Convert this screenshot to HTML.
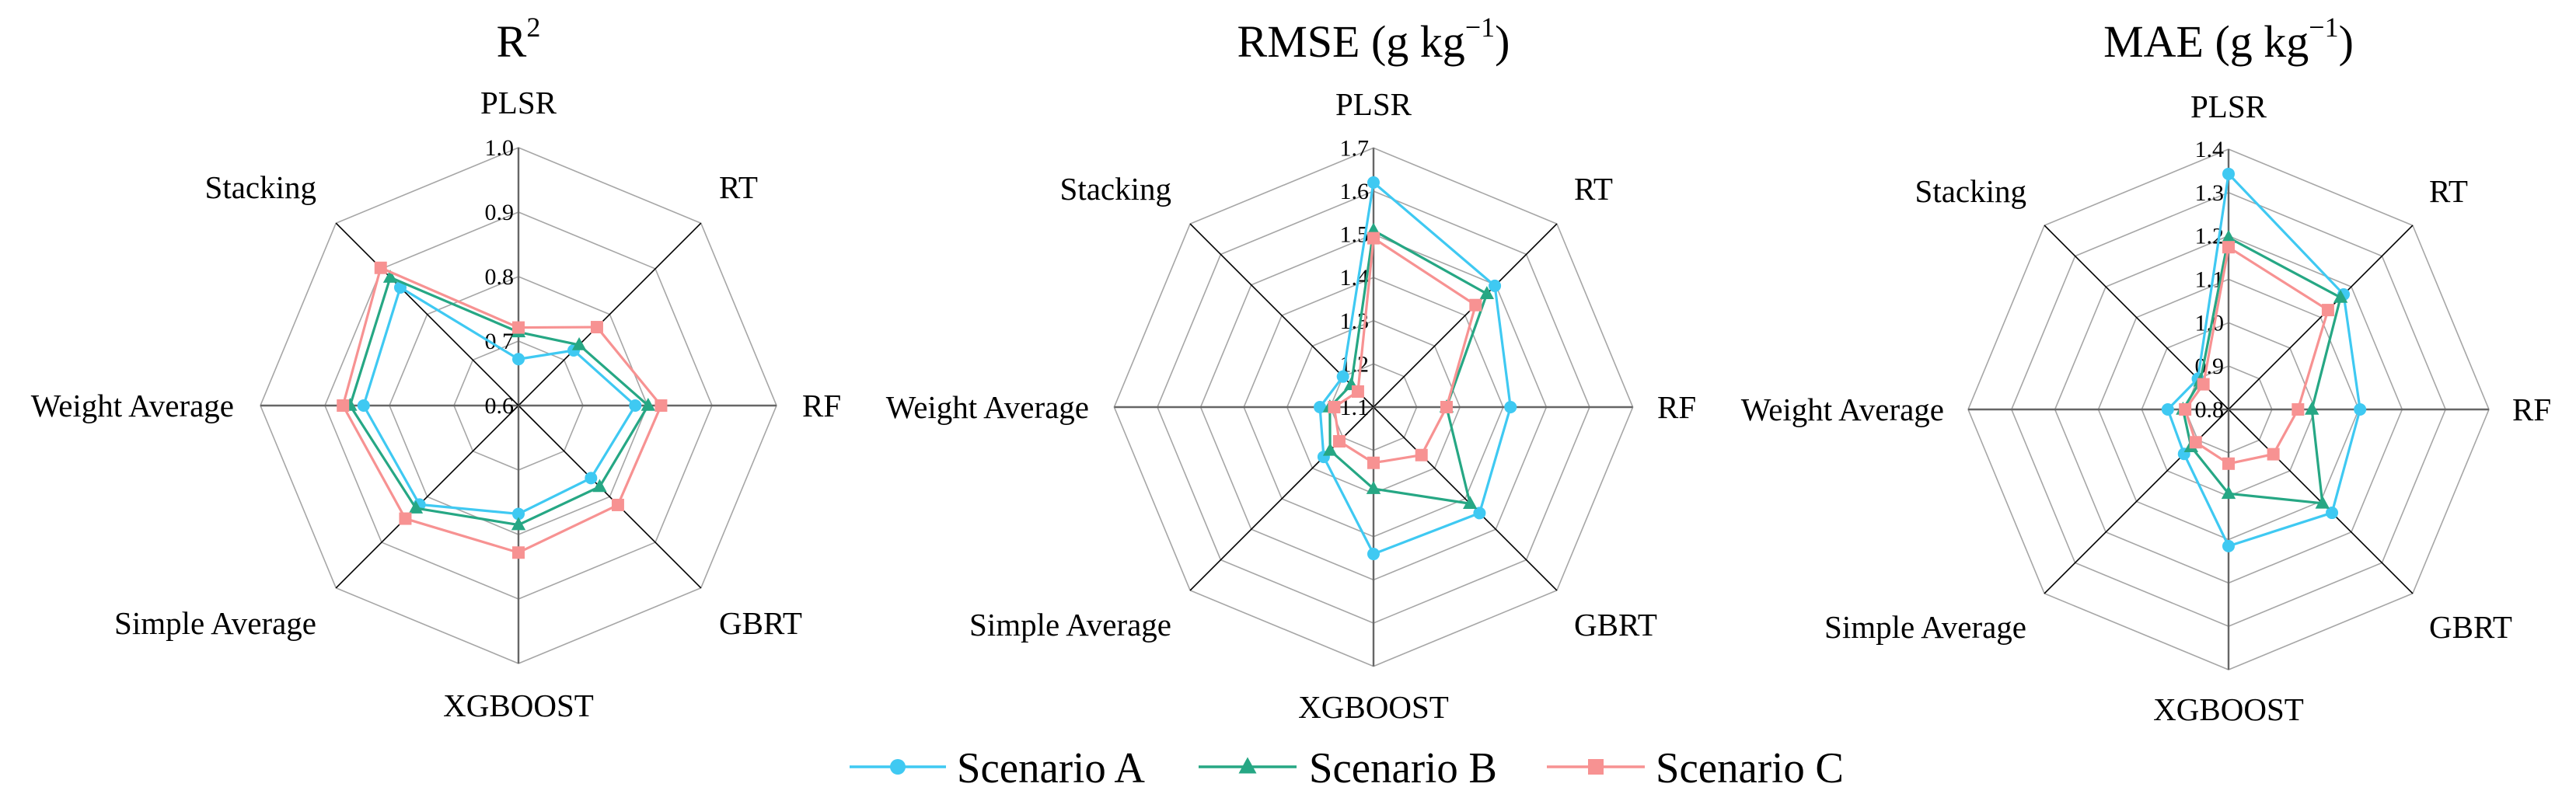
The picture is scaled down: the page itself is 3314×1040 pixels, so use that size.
<!DOCTYPE html>
<html><head><meta charset="utf-8"><style>
html,body{margin:0;padding:0;background:#fff;}
svg{display:block;}
svg text{font-family:"Liberation Serif","Times New Roman",serif;}
</style></head><body>
<svg id="root" width="3314" height="1040" viewBox="0 0 3314 1040" font-family="Liberation Serif, serif"></svg>
<script>
const categories = ["PLSR","RT","RF","GBRT","XGBOOST","Simple Average","Weight Average","Stacking"];
const seriesNames = ["Scenario A","Scenario B","Scenario C"];
const r2A = [0.672,0.721,0.781,0.759,0.768,0.817,0.840,0.859];
const r2B = [0.714,0.733,0.801,0.778,0.785,0.825,0.861,0.881];
const r2C = [0.721,0.772,0.821,0.818,0.828,0.848,0.872,0.902];
const rmseA = [1.620,1.497,1.417,1.447,1.440,1.263,1.224,1.200];
const rmseB = [1.509,1.471,1.269,1.416,1.289,1.242,1.201,1.173];
const rmseC = [1.491,1.434,1.269,1.257,1.229,1.212,1.191,1.151];
const maeA = [1.343,1.175,1.103,1.137,1.115,0.945,0.940,0.900];
const maeB = [1.196,1.165,0.992,1.106,0.994,0.922,0.905,0.892];
const maeC = [1.174,1.124,0.960,0.946,0.925,0.907,0.900,0.882];
const r2Ticks = ["0.6","0.7","0.8","0.9","1.0"];
const rmseTicks = ["1.1","1.2","1.3","1.4","1.5","1.6","1.7"];
const maeTicks = ["0.8","0.9","1.0","1.1","1.2","1.3","1.4"];

const NS = "http://www.w3.org/2000/svg";
const root = document.getElementById("root");
const colors = ["#3fc9f2","#26a784","#f79292"];
const FONT = '"Liberation Serif", serif';
function mk(tag, attrs, parent){
  const e = document.createElementNS(NS, tag);
  for (const k in attrs) e.setAttribute(k, attrs[k]);
  if (tag === "text") e.setAttribute("font-family", FONT);
  (parent||root).appendChild(e);
  return e;
}
function marker(g, kind, x, y, c, s){
  let m;
  if (kind===0) m = mk("circle",{cx:x,cy:y,r:s,fill:c},g);
  else if (kind===1) m = mk("polygon",{points:`${x},${y-s*1.25} ${x-s*1.15},${y+s*0.85} ${x+s*1.15},${y+s*0.85}`,fill:c},g);
  else m = mk("rect",{x:x-s,y:y-s,width:2*s,height:2*s,fill:c},g);
  return m;
}
function radar(cx, cy, R, ticks, series, title, sup, name){
  const g = mk("g",{});
  
  
  const tmin = parseFloat(ticks[0]), tmax = parseFloat(ticks[ticks.length-1]);
  const n = categories.length;
  const ang = i => -Math.PI/2 + i*2*Math.PI/n;
  const rad = v => (v - tmin)/(tmax - tmin)*R;
  const pt = (i, r) => [cx + r*Math.cos(ang(i)), cy + r*Math.sin(ang(i))];
  for (let k=1;k<ticks.length;k++){
    const r = rad(parseFloat(ticks[k]));
    const pts = categories.map((c,i)=>pt(i,r).join(",")).join(" ");
    const ring = mk("polygon",{points:pts,fill:"none",stroke:"#a6a6a6","stroke-width":1.6},g);
    
    
  }
  categories.forEach((c,i)=>{
    const p = pt(i,R);
    const diag = i%2===1;
    const sp = mk("line",{x1:cx,y1:cy,x2:p[0],y2:p[1],stroke:diag?"#000":"#666","stroke-width":diag?1.6:2.4},g);
    
    
  });
  ticks.forEach(t=>{
    const y = cy - rad(parseFloat(t));
    const tl = mk("text",{x:cx-6,y:y+10,"text-anchor":"end","font-size":30,fill:"#000"},g);
    tl.textContent = t;
    
    
  });
  const lp = [[0,-376,"middle"],[258,-267,"start"],[365,14,"start"],[258,294,"start"],[0,400,"middle"],[-260,294,"end"],[-366,14,"end"],[-260,-267,"end"]];
  categories.forEach((c,i)=>{
    const l = lp[i];
    const t = mk("text",{x:cx+l[0],y:cy+l[1],"text-anchor":l[2],"font-size":41,fill:"#000"},g);
    t.textContent = c;
    
    
  });
  const tt = mk("text",{x:cx,y:73,"text-anchor":"middle","font-size":58,fill:"#000"},g);
  
  
  tt.appendChild(document.createTextNode(title));
  const ts = document.createElementNS(NS,"tspan");
  ts.setAttribute("font-size","36"); ts.setAttribute("dy","-26");
  ts.textContent = sup; tt.appendChild(ts);
  if (title !== "R"){
    const ts2 = document.createElementNS(NS,"tspan");
    ts2.setAttribute("dy","26"); ts2.textContent = ")"; tt.appendChild(ts2);
  }
  series.forEach((vals, s)=>{
    const sg = mk("g",{},g);
    
    
    const pts = vals.map((v,i)=>pt(i,rad(v)));
    mk("polygon",{points:pts.map(p=>p.join(",")).join(" "),fill:"none",stroke:colors[s],"stroke-width":3.2,"stroke-linejoin":"round"},sg);
    pts.forEach(p=>{
      const m = marker(sg, s, p[0], p[1], colors[s], 8);
      
      
    });
  });
}
radar(667, 522, 332, r2Ticks, [r2A,r2B,r2C], "R", "2", "r2-radar-chart");
radar(1767, 524, 333.6, rmseTicks, [rmseA,rmseB,rmseC], "RMSE (g kg", "−1", "rmse-radar-chart");
radar(2867, 527, 335, maeTicks, [maeA,maeB,maeC], "MAE (g kg", "−1", "mae-radar-chart");

const leg = [[1093,1217,1155,1231],[1542,1668,1605,1684],[1990,2116,2053,2130]];
const lg = mk("g",{});


seriesNames.forEach((nm,s)=>{
  const L = leg[s];
  const eg = mk("g",{},lg);
  
  
  mk("line",{x1:L[0],y1:987,x2:L[1],y2:987,stroke:colors[s],"stroke-width":3.5},eg);
  marker(eg, s, L[2], 987, colors[s], 10);
  const t = mk("text",{x:L[3],y:1007,"font-size":56,fill:"#000",textLength:242,lengthAdjust:"spacingAndGlyphs"},eg);
  t.textContent = nm;
});
</script>
</body></html>
